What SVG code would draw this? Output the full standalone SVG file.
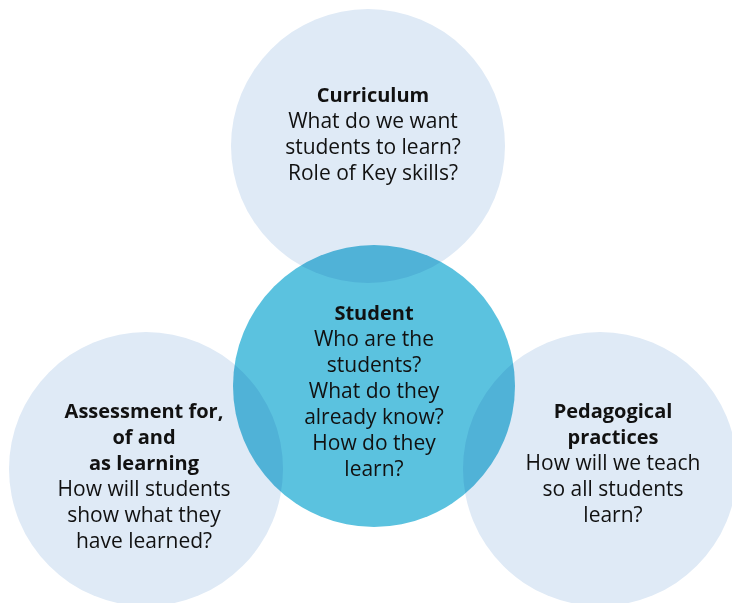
<svg xmlns="http://www.w3.org/2000/svg" width="732" height="603" viewBox="0 0 732 603">
<style>
.light{fill:#dfeaf6;mix-blend-mode:multiply}
.core{fill:#5bc2df}
text{font-family:"Open Sans","Noto Sans","Liberation Sans",sans-serif;font-size:21px;fill:#111;text-anchor:middle}
.b{font-weight:bold;font-size:20px}
</style>
<rect width="732" height="603" fill="#fff"/>
<g id="student-circle"><circle class="core" cx="374" cy="386" r="141"/></g>
<g id="curriculum"><circle class="light" cx="368" cy="146" r="137"/></g>
<g id="assessment"><circle class="light" cx="146" cy="469" r="137"/></g>
<g id="pedagogy"><circle class="light" cx="600" cy="469" r="137"/></g>
<g id="connectors"></g>
<g id="labels">
<text x="373" y="102"><tspan class="b">Curriculum</tspan><tspan x="373" dy="26">What do we want</tspan><tspan x="373" dy="26">students to learn?</tspan><tspan x="373" dy="26">Role of Key skills?</tspan></text>
<text x="374" y="320"><tspan class="b">Student</tspan><tspan x="374" dy="26">Who are the</tspan><tspan x="374" dy="26">students?</tspan><tspan x="374" dy="26">What do they</tspan><tspan x="374" dy="26">already know?</tspan><tspan x="374" dy="26">How do they</tspan><tspan x="374" dy="26">learn?</tspan></text>
<text x="144" y="418"><tspan class="b">Assessment for,</tspan><tspan class="b" x="144" dy="26">of and</tspan><tspan class="b" x="144" dy="26">as learning</tspan><tspan x="144" dy="26">How will students</tspan><tspan x="144" dy="26">show what they</tspan><tspan x="144" dy="26">have learned?</tspan></text>
<text x="613" y="418"><tspan class="b">Pedagogical</tspan><tspan class="b" x="613" dy="26">practices</tspan><tspan x="613" dy="26">How will we teach</tspan><tspan x="613" dy="26">so all students</tspan><tspan x="613" dy="26">learn?</tspan></text>
</g>
</svg>
